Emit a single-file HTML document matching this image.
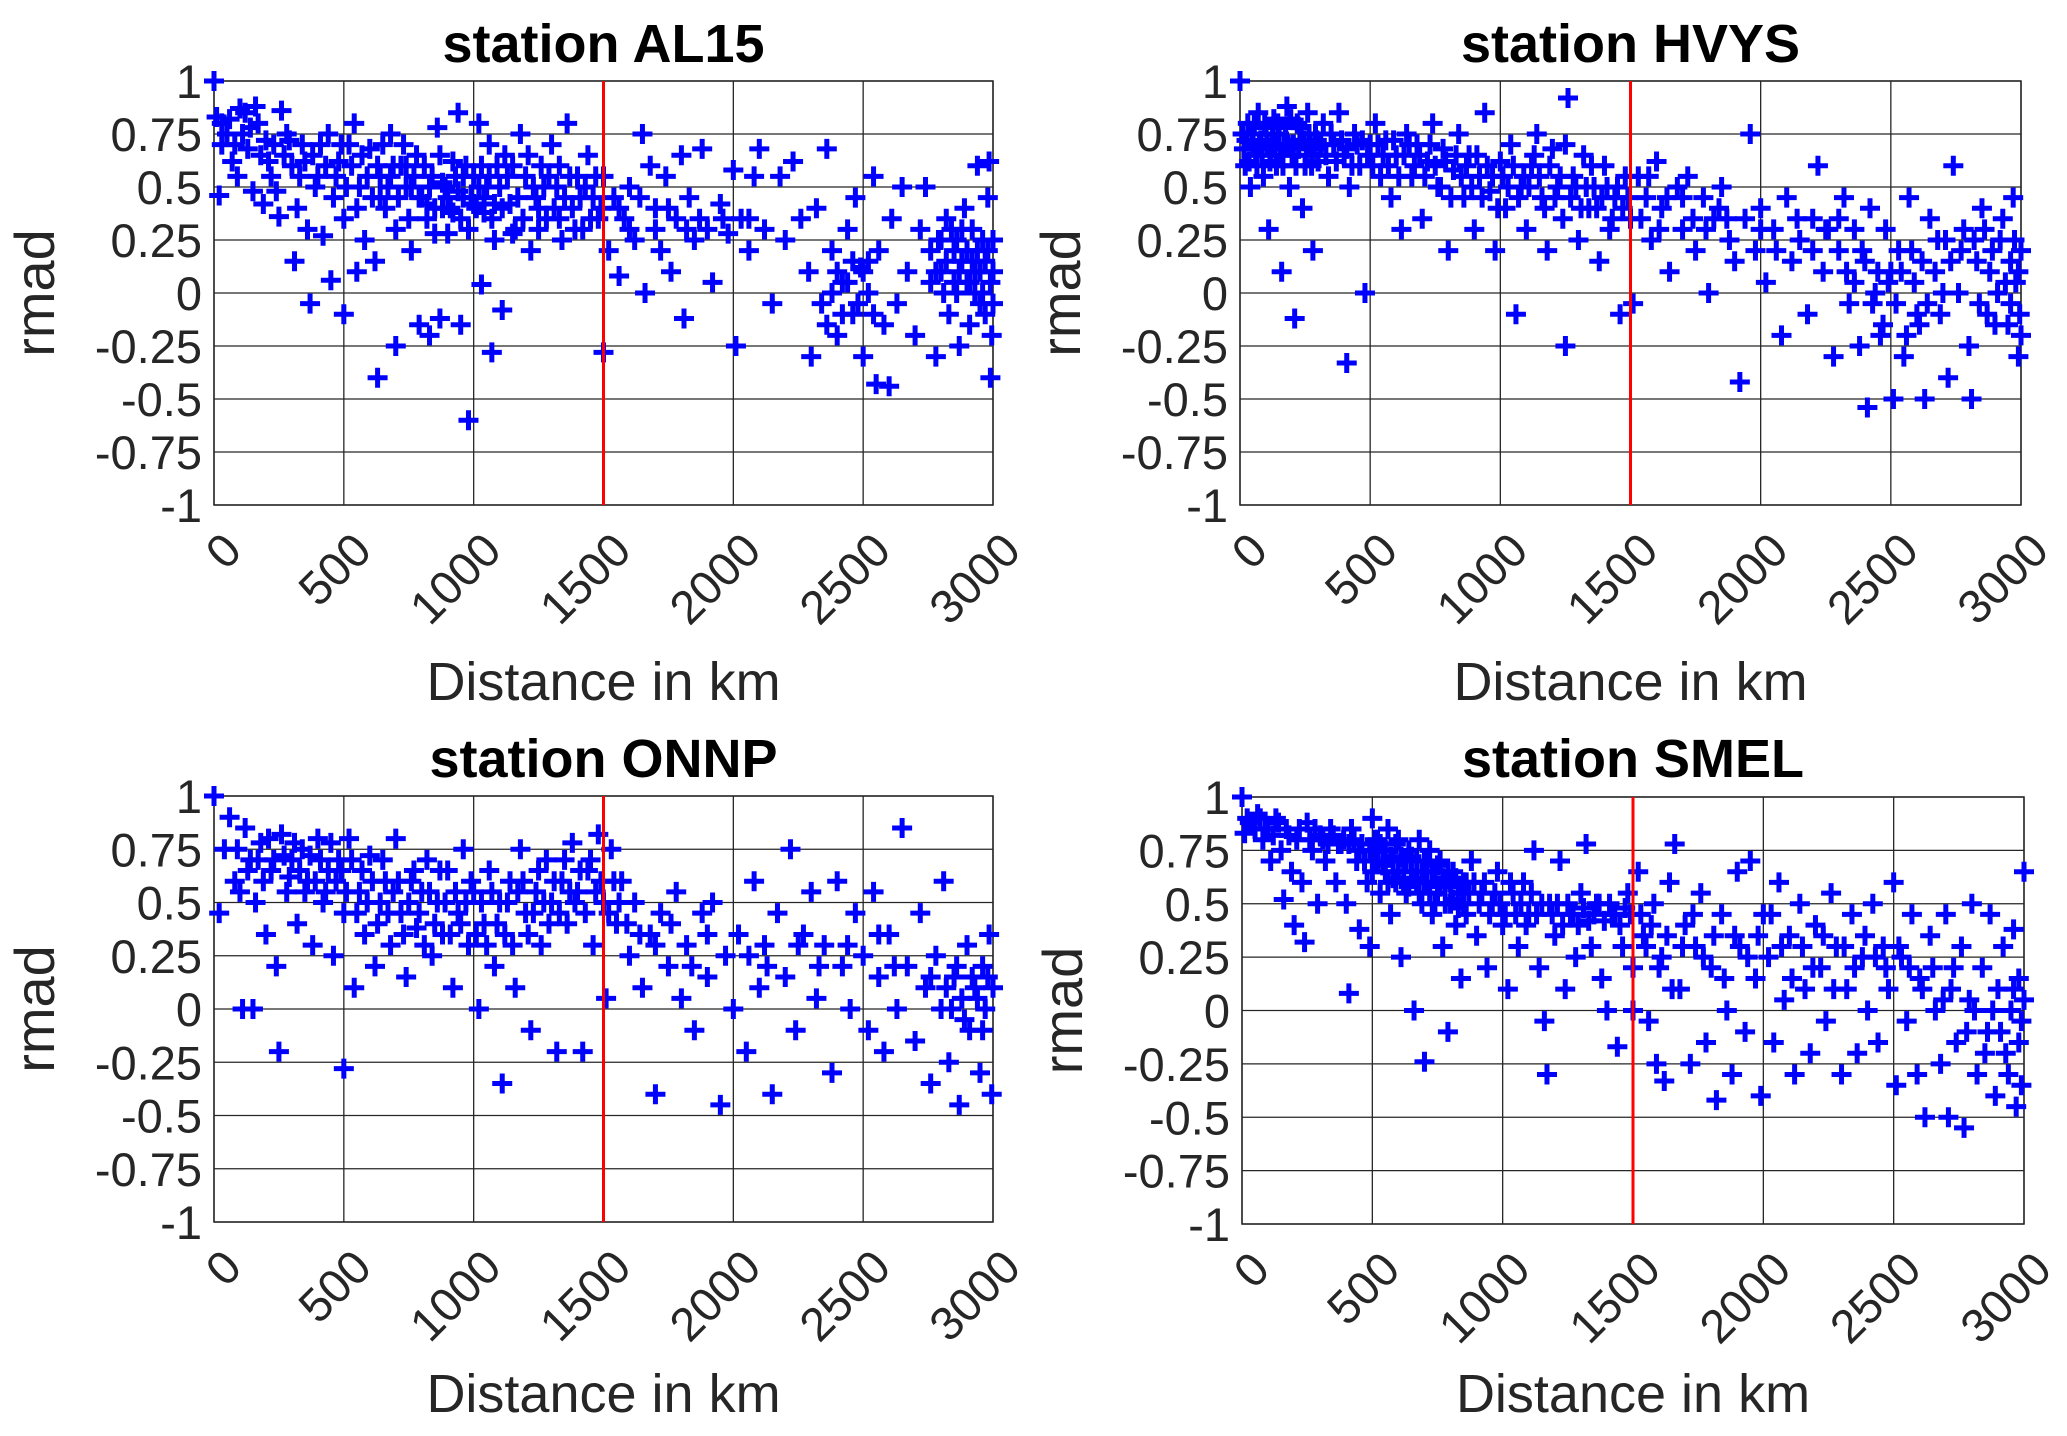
<!DOCTYPE html>
<html><head><meta charset="utf-8"><title>rmad vs distance</title>
<style>
html,body{margin:0;padding:0;background:#fff;}
svg{display:block;font-family:"Liberation Sans",Arial,sans-serif;}
</style></head>
<body>
<svg id="chart" width="2067" height="1436" viewBox="0 0 2067 1436" xmlns="http://www.w3.org/2000/svg"></svg>
<script>
// ---- data ([distance km, rmad]) ----
const stationNames = ["AL15","HVYS","ONNP","SMEL"];
const xTicks = [0,500,1000,1500,2000,2500,3000];
const yTicks = [1,0.75,0.5,0.25,0,-0.25,-0.5,-0.75,-1];
const yTickLabels = ["1","0.75","0.5","0.25","0","-0.25","-0.5","-0.75","-1"];
const cutoffKm = 1500;
const al15Points = [[0,1],[10,0.83],[20,0.46],[30,0.8],[50,0.75],[60,0.82],[80,0.7],[90,0.55],[100,0.87],[120,0.85],[140,0.78],[150,0.48],[160,0.88],[180,0.65],[190,0.42],[200,0.72],[220,0.55],[240,0.48],[250,0.36],[260,0.86],[280,0.75],[300,0.6],[310,0.15],[320,0.4],[340,0.7],[360,0.3],[370,-0.05],[380,0.65],[400,0.55],[420,0.27],[440,0.75],[450,0.06],[460,0.45],[480,0.62],[500,0.35],[500,-0.1],[520,0.7],[540,0.8],[550,0.1],[560,0.5],[580,0.25],[600,0.68],[620,0.15],[630,-0.4],[640,0.55],[660,0.4],[680,0.75],[700,0.3],[700,-0.25],[720,0.6],[740,0.5],[760,0.2],[780,0.65],[790,-0.15],[800,0.45],[820,0.35],[830,-0.2],[840,0.55],[860,0.78],[870,-0.12],[880,0.4],[900,0.28],[920,0.62],[940,0.85],[950,-0.15],[960,0.45],[980,0.3],[980,-0.6],[1000,0.55],[1020,0.8],[1030,0.04],[1040,0.38],[1060,0.7],[1070,-0.28],[1080,0.25],[1100,0.5],[1110,-0.08],[1120,0.65],[1140,0.42],[1160,0.3],[1180,0.75],[1200,0.55],[1220,0.2],[1240,0.45],[1260,0.6],[1280,0.35],[1300,0.7],[1320,0.5],[1340,0.25],[1360,0.8],[1380,0.4],[1400,0.55],[1420,0.3],[1440,0.65],[1460,0.45],[1480,0.35],[1500,0.55],[1500,-0.28],[1520,0.2],[1540,0.45],[1560,0.08],[1580,0.35],[1600,0.5],[1620,0.25],[1650,0.75],[1660,0.0],[1680,0.6],[1700,0.4],[1720,0.2],[1740,0.55],[1760,0.1],[1780,0.35],[1800,0.65],[1810,-0.12],[1830,0.45],[1850,0.25],[1880,0.68],[1900,0.3],[1920,0.05],[1950,0.42],[1980,0.28],[2000,0.58],[2010,-0.25],[2030,0.35],[2060,0.2],[2080,0.55],[2100,0.68],[2120,0.3],[2150,-0.05],[2180,0.55],[2200,0.25],[2230,0.62],[2260,0.35],[2290,0.1],[2300,-0.3],[2320,0.4],[2340,-0.05],[2360,0.68],[2380,0.2],[2400,-0.2],[2420,0.05],[2440,0.3],[2460,-0.1],[2470,0.45],[2490,0.12],[2500,-0.3],[2520,0.0],[2540,0.55],[2550,-0.43],[2560,0.2],[2580,-0.15],[2600,-0.44],[2610,0.35],[2630,-0.05],[2650,0.5],[2670,0.1],[2700,-0.2],[2720,0.3],[2740,0.5],[2760,0.05],[2780,-0.3],[2790,0.25],[2800,0.1],[2820,0.35],[2830,-0.1],[2850,0.2],[2860,0.0],[2870,-0.25],[2880,0.15],[2890,0.4],[2900,0.05],[2910,-0.15],[2920,0.3],[2930,0.1],[2940,0.6],[2950,-0.05],[2960,0.25],[2970,0.15],[2980,0.45],[2990,-0.4],[3000,0.1],[2985,0.62],[2995,-0.2],
[30,0.7],[70,0.62],[110,0.75],[130,0.68],[170,0.8],[210,0.62],[230,0.7],[270,0.65],[290,0.72],[330,0.55],[350,0.62],[390,0.5],[410,0.7],[430,0.6],[470,0.55],[490,0.7],[510,0.5],[530,0.6],[550,0.4],[570,0.65],[590,0.55],[610,0.45],[630,0.6],[650,0.7],[670,0.5],[690,0.6],[710,0.45],[730,0.7],[750,0.35],[770,0.55],[790,0.45],[810,0.6],[830,0.5],[850,0.4],[870,0.65],[890,0.5],[910,0.4],[930,0.55],[950,0.35],[970,0.6],[990,0.45],[1010,0.4],[1030,0.6],[1050,0.5],[1070,0.35],[1090,0.6],[1110,0.4],[1130,0.55],[1150,0.6],[1170,0.45],[1190,0.35],[1210,0.65],[1230,0.5],[1250,0.4],[1270,0.5],[1290,0.55],[1310,0.4],[1330,0.6],[1350,0.45],[1370,0.55],[1390,0.3],[1410,0.45],[1430,0.5],[1450,0.35],[1470,0.55],[1490,0.4],[880,0.52],[900,0.45],[920,0.38],[940,0.48],[960,0.55],[1000,0.42],[1020,0.5],[1040,0.45],[1060,0.55],[1080,0.42],[760,0.5],[740,0.6],[680,0.55],[640,0.45],[820,0.42],[850,0.28],[1150,0.28],[1250,0.3],[1330,0.35],[1560,0.4],[1600,0.3],[1640,0.45],[1700,0.3],[1750,0.4],[1820,0.3],[1870,0.35],[1960,0.35],[2060,0.35],[2760,0.2],[2780,0.1],[2800,0.25],[2810,0.0],[2820,0.15],[2840,0.3],[2850,0.05],[2860,0.25],[2870,0.1],[2880,0.3],[2900,0.2],[2910,0.05],[2920,0.15],[2930,0.0],[2940,0.2],[2950,0.1],[2960,0.0],[2970,-0.1],[2980,0.2],[2990,0.05],[3000,0.25],[3000,-0.05],[2440,0.05],[2460,0.15],[2480,-0.05],[2500,0.1],[2520,0.15],[2540,-0.1],[2400,0.1],[2420,-0.1],[2380,0.0],[2360,-0.15]];
const hvysPoints = [[0,1],[10,0.75],[20,0.6],[30,0.8],[40,0.5],[50,0.7],[60,0.65],[70,0.85],[80,0.72],[90,0.55],[100,0.78],[110,0.3],[120,0.68],[130,0.82],[140,0.6],[150,0.75],[160,0.1],[170,0.7],[180,0.88],[190,0.5],[200,0.65],[210,-0.12],[220,0.8],[230,0.72],[240,0.4],[250,0.6],[260,0.85],[270,0.7],[280,0.2],[290,0.75],[300,0.62],[320,0.8],[340,0.55],[360,0.7],[380,0.85],[400,0.65],[410,-0.33],[420,0.5],[440,0.75],[460,0.6],[480,0.0],[500,0.7],[520,0.8],[540,0.55],[560,0.72],[580,0.45],[600,0.65],[620,0.3],[640,0.75],[660,0.55],[680,0.7],[700,0.35],[720,0.62],[740,0.8],[760,0.5],[780,0.68],[800,0.2],[820,0.58],[840,0.75],[860,0.45],[880,0.65],[900,0.3],[920,0.55],[940,0.85],[960,0.48],[980,0.2],[1000,0.62],[1020,0.4],[1040,0.7],[1060,-0.1],[1080,0.5],[1100,0.3],[1120,0.6],[1140,0.75],[1160,0.45],[1180,0.2],[1200,0.68],[1220,0.5],[1240,0.35],[1250,-0.25],[1260,0.92],[1280,0.55],[1300,0.25],[1320,0.65],[1340,0.4],[1360,0.5],[1380,0.15],[1400,0.6],[1420,0.3],[1440,0.45],[1460,-0.1],[1480,0.55],[1500,0.35],[1510,-0.05],[1530,0.55],[1560,0.45],[1580,0.25],[1600,0.62],[1620,0.4],[1650,0.1],[1680,0.5],[1700,0.3],[1720,0.55],[1750,0.2],[1780,0.45],[1800,0.0],[1820,0.35],[1850,0.5],[1880,0.25],[1900,0.15],[1920,-0.42],[1940,0.35],[1960,0.75],[1980,0.2],[2000,0.4],[2020,0.05],[2050,0.3],[2080,-0.2],[2100,0.45],[2120,0.15],[2150,0.25],[2180,-0.1],[2200,0.35],[2220,0.6],[2240,0.1],[2260,0.3],[2280,-0.3],[2300,0.2],[2320,0.45],[2340,-0.05],[2360,0.3],[2380,-0.25],[2400,0.15],[2410,-0.54],[2420,0.4],[2440,0.0],[2460,-0.2],[2480,0.3],[2500,0.1],[2510,-0.5],[2530,0.2],[2550,-0.3],[2570,0.45],[2590,0.05],[2610,-0.15],[2630,-0.5],[2650,0.35],[2670,0.1],[2690,-0.1],[2710,0.25],[2720,-0.4],[2740,0.6],[2760,0.0],[2780,0.3],[2800,-0.25],[2810,-0.5],[2830,0.15],[2850,0.4],[2870,-0.1],[2890,0.2],[2910,0.0],[2930,0.35],[2950,-0.15],[2960,0.15],[2970,0.45],[2980,0.05],[2990,-0.3],[3000,0.2],[2995,-0.1],
[15,0.68],[25,0.72],[35,0.62],[45,0.75],[55,0.8],[65,0.6],[75,0.7],[85,0.65],[95,0.8],[105,0.7],[115,0.62],[125,0.75],[135,0.7],[145,0.8],[155,0.65],[165,0.6],[175,0.78],[185,0.7],[195,0.82],[205,0.7],[215,0.6],[225,0.68],[235,0.78],[245,0.72],[255,0.65],[265,0.75],[275,0.6],[285,0.68],[295,0.72],[310,0.7],[330,0.65],[350,0.75],[370,0.62],[390,0.72],[410,0.68],[430,0.6],[450,0.7],[470,0.72],[490,0.65],[510,0.6],[530,0.7],[550,0.65],[570,0.6],[590,0.72],[610,0.55],[630,0.65],[650,0.7],[670,0.6],[690,0.65],[710,0.55],[730,0.7],[750,0.6],[770,0.5],[790,0.62],[810,0.45],[830,0.65],[850,0.55],[870,0.6],[890,0.5],[910,0.65],[930,0.45],[950,0.6],[970,0.55],[990,0.4],[1010,0.55],[1030,0.5],[1050,0.6],[1070,0.45],[1090,0.55],[1110,0.5],[1130,0.65],[1150,0.55],[1170,0.4],[1190,0.6],[1210,0.45],[1230,0.55],[1250,0.7],[1270,0.45],[1290,0.5],[1310,0.4],[1330,0.5],[1350,0.6],[1370,0.4],[1390,0.45],[1410,0.5],[1430,0.35],[1450,0.5],[1470,0.4],[1490,0.45],[1540,0.35],[1570,0.55],[1610,0.3],[1640,0.45],[1700,0.45],[1740,0.35],[1790,0.3],[1840,0.4],[1870,0.35],[2000,0.3],[2060,0.2],[2140,0.35],[2200,0.2],[2250,0.3],[2300,0.35],[2330,0.1],[2360,0.05],[2390,0.2],[2430,-0.05],[2450,0.1],[2470,-0.15],[2490,0.05],[2520,-0.05],[2540,0.1],[2560,-0.2],[2580,0.2],[2600,-0.1],[2620,0.15],[2640,-0.05],[2680,0.25],[2700,0.0],[2730,0.15],[2770,0.2],[2820,0.25],[2840,-0.05],[2860,0.3],[2880,0.1],[2900,-0.15],[2920,0.25],[2940,0.05],[2960,-0.05],[2975,0.25],[2990,0.1],[3000,-0.2]];
const onnpPoints = [[0,1],[20,0.45],[40,0.75],[60,0.9],[80,0.6],[100,0.55],[110,0.0],[120,0.85],[140,0.7],[150,0.0],[160,0.5],[180,0.78],[200,0.35],[220,0.65],[240,0.2],[250,-0.2],[260,0.82],[280,0.55],[300,0.7],[320,0.4],[340,0.75],[360,0.6],[380,0.3],[400,0.8],[420,0.5],[440,0.65],[460,0.25],[480,0.7],[500,0.45],[500,-0.28],[520,0.8],[540,0.1],[560,0.55],[580,0.35],[600,0.72],[620,0.2],[640,0.5],[660,0.6],[680,0.3],[700,0.8],[720,0.45],[740,0.15],[760,0.6],[780,0.38],[800,0.55],[820,0.7],[840,0.25],[860,0.5],[880,0.35],[900,0.65],[920,0.1],[940,0.45],[960,0.75],[980,0.3],[1000,0.55],[1020,0.0],[1040,0.4],[1060,0.65],[1080,0.2],[1100,0.5],[1110,-0.35],[1120,0.35],[1140,0.6],[1160,0.1],[1180,0.75],[1200,0.45],[1220,-0.1],[1240,0.55],[1260,0.3],[1280,0.7],[1300,0.5],[1320,-0.2],[1340,0.6],[1360,0.4],[1380,0.78],[1400,0.55],[1420,-0.2],[1440,0.65],[1460,0.3],[1480,0.82],[1500,0.5],[1510,0.05],[1530,0.75],[1550,0.4],[1570,0.6],[1600,0.25],[1620,0.5],[1650,0.1],[1680,0.35],[1700,-0.4],[1720,0.45],[1750,0.2],[1780,0.55],[1800,0.05],[1820,0.3],[1850,-0.1],[1880,0.45],[1900,0.15],[1920,0.5],[1950,-0.45],[1970,0.25],[2000,0.0],[2020,0.35],[2050,-0.2],[2080,0.6],[2100,0.1],[2120,0.3],[2150,-0.4],[2170,0.45],[2200,0.15],[2220,0.75],[2240,-0.1],[2270,0.35],[2300,0.55],[2320,0.05],[2350,0.3],[2380,-0.3],[2400,0.6],[2420,0.2],[2450,0.0],[2470,0.45],[2500,0.25],[2520,-0.1],[2540,0.55],[2560,0.15],[2580,-0.2],[2600,0.35],[2630,0.0],[2650,0.85],[2670,0.2],[2700,-0.15],[2720,0.45],[2740,0.1],[2760,-0.35],[2780,0.25],[2800,0.0],[2810,0.6],[2830,-0.25],[2850,0.15],[2870,-0.45],[2880,0.05],[2900,0.3],[2910,-0.1],[2930,0.1],[2950,-0.3],[2960,0.2],[2970,0.0],[2985,0.35],[2995,-0.4],[3000,0.1],
[90,0.75],[130,0.65],[170,0.7],[190,0.6],[210,0.8],[230,0.7],[270,0.72],[290,0.62],[310,0.78],[330,0.65],[350,0.55],[370,0.72],[390,0.6],[410,0.7],[430,0.55],[450,0.78],[470,0.6],[490,0.65],[510,0.55],[530,0.7],[550,0.45],[570,0.65],[590,0.5],[610,0.6],[630,0.4],[650,0.7],[670,0.45],[690,0.55],[710,0.6],[730,0.35],[750,0.5],[770,0.65],[790,0.45],[810,0.3],[830,0.55],[850,0.4],[870,0.65],[890,0.5],[910,0.35],[930,0.55],[950,0.4],[970,0.5],[990,0.6],[1010,0.35],[1030,0.5],[1050,0.3],[1070,0.55],[1090,0.4],[1130,0.5],[1150,0.3],[1170,0.55],[1190,0.6],[1210,0.35],[1230,0.45],[1250,0.65],[1270,0.5],[1290,0.4],[1310,0.6],[1330,0.45],[1350,0.7],[1370,0.55],[1390,0.5],[1410,0.65],[1430,0.45],[1450,0.7],[1470,0.55],[1490,0.6],[1520,0.45],[1540,0.6],[1560,0.5],[1590,0.4],[1640,0.35],[1700,0.3],[1760,0.4],[1840,0.2],[1900,0.35],[2060,0.25],[2130,0.2],[2250,0.3],[2330,0.2],[2440,0.3],[2560,0.35],[2620,0.2],[2760,0.15],[2820,0.1],[2840,0.0],[2860,0.2],[2890,-0.05],[2920,0.15],[2940,0.05],[2960,-0.1],[2980,0.15]];
const smelPoints = [[0,1],[10,0.83],[20,0.9],[40,0.88],[60,0.92],[80,0.8],[100,0.85],[110,0.7],[130,0.9],[150,0.75],[160,0.52],[170,0.85],[190,0.65],[200,0.4],[210,0.8],[230,0.6],[240,0.32],[250,0.88],[270,0.75],[290,0.5],[300,0.82],[320,0.7],[340,0.85],[360,0.6],[380,0.78],[400,0.5],[410,0.08],[420,0.85],[440,0.7],[450,0.38],[460,0.78],[480,0.6],[490,0.3],[500,0.9],[510,0.7],[520,0.8],[530,0.55],[540,0.75],[550,0.65],[560,0.85],[570,0.45],[580,0.7],[590,0.6],[600,0.8],[610,0.25],[620,0.7],[630,0.55],[640,0.75],[650,0.65],[660,0.0],[670,0.6],[680,0.8],[690,0.5],[700,0.7],[700,-0.24],[710,0.6],[720,0.75],[730,0.45],[740,0.65],[750,0.55],[760,0.7],[770,0.3],[780,0.6],[790,-0.1],[800,0.5],[810,0.65],[820,0.4],[830,0.55],[840,0.15],[850,0.6],[860,0.45],[880,0.7],[900,0.35],[920,0.55],[940,0.2],[960,0.5],[980,0.65],[1000,0.4],[1020,0.1],[1040,0.55],[1060,0.3],[1080,0.6],[1100,0.45],[1120,0.75],[1140,0.2],[1160,-0.05],[1170,-0.3],[1180,0.5],[1200,0.35],[1220,0.7],[1240,0.1],[1260,0.45],[1280,0.25],[1300,0.55],[1320,0.78],[1340,0.3],[1360,0.5],[1380,0.15],[1400,0.0],[1420,0.45],[1440,-0.17],[1460,0.3],[1480,0.55],[1500,0.2],[1500,0.0],[1520,0.65],[1540,0.35],[1560,-0.05],[1580,0.5],[1590,-0.25],[1610,0.25],[1620,-0.33],[1640,0.6],[1660,0.78],[1680,0.1],[1700,0.4],[1720,-0.25],[1740,0.3],[1760,0.55],[1780,-0.15],[1800,0.2],[1820,-0.42],[1840,0.45],[1860,0.0],[1880,-0.3],[1900,0.65],[1910,0.3],[1930,-0.1],[1950,0.7],[1970,0.15],[1990,-0.4],[2000,0.45],[2020,0.25],[2040,-0.15],[2060,0.6],[2080,0.05],[2100,0.35],[2120,-0.3],[2140,0.5],[2160,0.1],[2180,-0.2],[2200,0.4],[2220,0.2],[2240,-0.05],[2260,0.55],[2280,0.3],[2300,-0.3],[2320,0.1],[2340,0.45],[2360,-0.2],[2380,0.25],[2400,0.0],[2420,0.5],[2440,-0.15],[2460,0.3],[2480,0.1],[2500,0.6],[2510,-0.35],[2530,0.25],[2550,-0.05],[2570,0.45],[2590,-0.3],[2600,0.15],[2620,-0.5],[2640,0.35],[2660,0.0],[2680,-0.25],[2700,0.45],[2710,-0.5],[2720,0.1],[2740,-0.15],[2760,0.3],[2770,-0.55],[2790,0.05],[2800,0.5],[2820,-0.3],[2840,0.2],[2860,-0.1],[2870,0.45],[2890,-0.4],[2900,0.1],[2920,0.3],[2930,-0.2],[2950,0.0],[2960,0.38],[2970,-0.45],[2980,0.15],[2990,-0.35],[3000,0.65],[3000,0.05],
[30,0.88],[50,0.85],[70,0.9],[90,0.85],[120,0.82],[140,0.88],[180,0.82],[220,0.85],[260,0.8],[280,0.85],[310,0.8],[330,0.78],[350,0.82],[370,0.78],[390,0.8],[410,0.78],[430,0.8],[450,0.75],[470,0.7],[490,0.75],[500,0.65],[510,0.8],[520,0.7],[530,0.78],[540,0.68],[550,0.75],[560,0.6],[570,0.72],[580,0.62],[590,0.78],[600,0.65],[610,0.72],[620,0.6],[630,0.7],[640,0.58],[650,0.72],[660,0.62],[670,0.7],[680,0.55],[690,0.65],[700,0.6],[710,0.7],[720,0.55],[730,0.65],[740,0.5],[750,0.68],[760,0.58],[770,0.62],[780,0.5],[790,0.65],[800,0.6],[810,0.52],[820,0.62],[830,0.48],[840,0.58],[850,0.5],[860,0.6],[870,0.55],[890,0.6],[910,0.5],[930,0.6],[950,0.45],[970,0.55],[990,0.5],[1010,0.45],[1030,0.6],[1050,0.45],[1070,0.5],[1090,0.4],[1110,0.55],[1130,0.45],[1150,0.5],[1190,0.45],[1210,0.5],[1230,0.4],[1250,0.5],[1270,0.45],[1290,0.4],[1310,0.48],[1330,0.42],[1350,0.45],[1370,0.5],[1390,0.42],[1410,0.5],[1430,0.45],[1450,0.4],[1470,0.48],[1490,0.45],[1530,0.45],[1550,0.3],[1570,0.4],[1600,0.2],[1630,0.35],[1650,0.1],[1690,0.3],[1730,0.45],[1770,0.25],[1810,0.35],[1850,0.15],[1890,0.35],[1940,0.25],[1980,0.35],[2030,0.45],[2070,0.3],[2110,0.15],[2150,0.3],[2190,0.2],[2230,0.35],[2270,0.1],[2310,0.3],[2350,0.2],[2390,0.35],[2430,0.25],[2470,0.2],[2520,0.3],[2560,0.2],[2610,0.1],[2650,0.2],[2690,0.05],[2730,0.2],[2780,-0.1],[2810,0.0],[2850,-0.2],[2880,0.0],[2910,-0.1],[2940,-0.3],[2960,0.1],[2980,-0.15],[2990,-0.05]];
const seriesPoints = [al15Points, hvysPoints, onnpPoints, smelPoints];

// ---- layout ----
const NS = "http://www.w3.org/2000/svg";
const svg = document.getElementById("chart");
const panels = [
  {left:214, right:993, top:81, bottom:505, title:62, xlab:700},
  {left:1240, right:2021, top:81, bottom:505, title:62, xlab:700},
  {left:214, right:993, top:796, bottom:1222, title:777, xlab:1412},
  {left:1242, right:2024, top:797, bottom:1224, title:777, xlab:1412}
];
function mk(tag, attrs, parent){
  const e = document.createElementNS(NS, tag);
  for (const k in attrs) e.setAttribute(k, attrs[k]);
  (parent||svg).appendChild(e);
  return e;
}
panels.forEach((p, i) => {
  const xs = v => p.left + (v - 0) / 3000 * (p.right - p.left);
  const ys = v => p.bottom - (v + 1) / 2 * (p.bottom - p.top);
  const g = mk("g", {});
  
  
  const bg = mk("rect", {x:p.left, y:p.top, width:p.right-p.left, height:p.bottom-p.top, fill:"#fff", stroke:"#262626", "stroke-width":1.5}, g);
  
  
  xTicks.forEach(t => {
    const l = mk("line", {x1:xs(t), x2:xs(t), y1:p.top, y2:p.bottom, stroke:"#262626", "stroke-width":1.3}, g);
    
    
    const ax = xs(t) + 30, ay = p.bottom + 48;
    const tx = mk("text", {x:ax, y:ay, "font-size":47, fill:"#262626", "text-anchor":"end", transform:`rotate(-45 ${ax} ${ay})`}, g);
    tx.textContent = String(t);
    
    
  });
  yTicks.forEach((t, k) => {
    const l = mk("line", {x1:p.left, x2:p.right, y1:ys(t), y2:ys(t), stroke:"#262626", "stroke-width":1.3}, g);
    
    
    const tx = mk("text", {x:p.left - 12, y:ys(t) + 17, "font-size":47, fill:"#262626", "text-anchor":"end"}, g);
    tx.textContent = yTickLabels[k];
    
    
  });
  const pts = mk("g", {stroke:"#0000ff", "stroke-width":5, fill:"none"}, g);
  
  
  const s = 10;
  seriesPoints[i].forEach(pt => {
    const cx = xs(pt[0]), cy = ys(pt[1]);
    const m = mk("path", {d:`M${cx-s} ${cy}H${cx+s}M${cx} ${cy-s}V${cy+s}`}, pts);
    
    
  });
  const rl = mk("line", {x1:xs(cutoffKm), x2:xs(cutoffKm), y1:p.top, y2:p.bottom, stroke:"#ff0000", "stroke-width":3}, g);
  
  
  const cx = (p.left + p.right) / 2;
  const ti = mk("text", {x:cx, y:p.title, "font-size":54, "font-weight":"bold", "text-anchor":"middle", fill:"#000"}, g);
  ti.textContent = "station " + stationNames[i];
  
  
  const xl = mk("text", {x:cx, y:p.xlab, "font-size":54, "text-anchor":"middle", fill:"#262626"}, g);
  xl.textContent = "Distance in km";
  
  
  const lx = p.left - 160, ly = (p.top + p.bottom) / 2;
  const yl = mk("text", {x:lx, y:ly, "font-size":56, "text-anchor":"middle", fill:"#262626", transform:`rotate(-90 ${lx} ${ly})`}, g);
  yl.textContent = "rmad";
  
  
});
</script>
</body></html>
